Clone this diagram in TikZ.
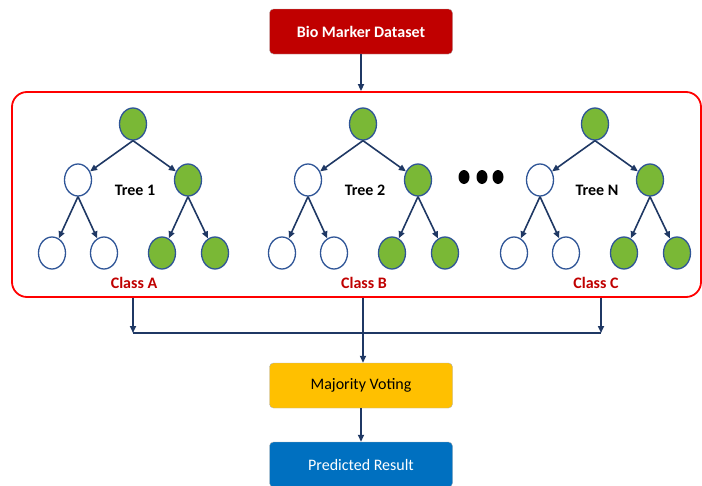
\documentclass[tikz,border=0pt]{standalone}
\usepackage{fontspec}
\setmainfont{Carlito}
\usetikzlibrary{arrows.meta,positioning,shapes.geometric}
\definecolor{leafgreen}{RGB}{122,184,54}
\definecolor{nodeblue}{RGB}{47,85,151}
\definecolor{navy}{RGB}{31,56,100}
\definecolor{darkred}{RGB}{192,0,0}
\definecolor{framered}{RGB}{255,0,0}
\definecolor{gold}{RGB}{255,192,0}
\definecolor{resultblue}{RGB}{0,112,192}
\tikzset{
    tree node/.style = {
        ellipse,
        draw = nodeblue,
        line width = 1.3pt,
        minimum width = 27pt,
        minimum height = 32pt,
        inner sep = 0pt,
        fill = white,
        },
    hit/.style = {
        fill = leafgreen,
        },
    link/.style = {
        draw = navy,
        line width = 1.6pt,
        -{Triangle[length=7pt, width=6pt]},
        },
    flow/.style = {
        draw = navy,
        line width = 1.6pt,
        },
    stage/.style = {
        rounded corners = 4pt,
        draw = gray!60,
        minimum width = 183pt,
        minimum height = 45pt,
        font = \fontsize{16}{18}\selectfont,
        },
    tree label/.style = {
        font = \bfseries\fontsize{16}{18}\selectfont,
        },
    class label/.style = {
        text = darkred,
        font = \bfseries\fontsize{16}{18}\selectfont,
        },
    dot/.style = {
        ellipse,
        fill = black,
        minimum width = 11pt,
        minimum height = 14pt,
        inner sep = 0pt,
        },
}
\begin{document}
\begin{tikzpicture}[x=1pt, y=-1pt]
    \useasboundingbox (0,0) rectangle (702,485);

    \node [stage, fill=darkred, text=white, font=\bfseries\fontsize{16}{18}\selectfont] (data) at (361,31.5) {Bio Marker Dataset};
    \node [draw=framered, line width=1.8pt, rounded corners=15pt,
           minimum width=689pt, minimum height=205pt, inner sep=0pt] (frame) at (356.5,194.5) {};

    \draw [link] (data.south) -- (data.south |- frame.north);

    % one tree per class
    \foreach \t/\x/\name/\cls in {1/133/Tree 1/Class A, 2/363/Tree 2/Class B, 3/595/Tree N/Class C} {
        \node [tree node, hit] (r\t) at (\x,124) {};
        \node [tree node] (a\t) at (\x-55,180) {};
        \node [tree node, hit] (b\t) at (\x+55,180) {};
        \node [tree node] (aa\t) at (\x-81,253) {};
        \node [tree node] (ab\t) at (\x-29,253) {};
        \node [tree node, hit] (ba\t) at (\x+29,253) {};
        \node [tree node, hit] (bb\t) at (\x+82,253) {};
        \node [tree label] (name\t) at (\x+2,190) {\name};
        \node [class label] (cls\t) at (\x+1,283) {\cls};

        \draw [link] (r\t.south) -- (a\t);
        \draw [link] (r\t.south) -- (b\t);
        \draw [link] (a\t.south) -- (aa\t);
        \draw [link] (a\t.south) -- (ab\t);
        \draw [link] (b\t.south) -- (ba\t);
        \draw [link] (b\t.south) -- (bb\t);
    }

    \node [dot] (dot1) at (464,177) {};
    \node [dot] (dot2) at (482,177) {};
    \node [dot] (dot3) at (498,177) {};

    \node [stage, fill=gold] (vote) at (361,385.5) {Majority Voting};
    \node [stage, fill=resultblue, text=white] (result) at (361,464.5) {Predicted Result};

    \coordinate (outA) at (133,333);
    \coordinate (join) at (363,333);
    \coordinate (outC) at (601,333);
    \draw [link] (frame.south -| outA) -- (outA);
    \draw [link] (frame.south -| outC) -- (outC);
    \draw [flow] (outA) -- (outC);
    \draw [link] (frame.south -| join) -- (join |- vote.north);
    \draw [link] (vote.south) -- (result.north);
\end{tikzpicture}
\end{document}
